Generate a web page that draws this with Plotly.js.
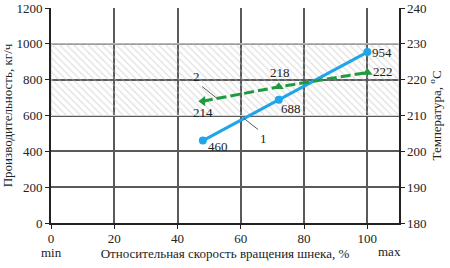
<!DOCTYPE html>
<html><head><meta charset="utf-8">
<script src="https://cdn.plot.ly/plotly-3.0.1.min.js"></script>
<style>html,body{margin:0;padding:0;background:#fff}#c{width:450px;height:268px}</style>
</head><body><div id="c"></div>
<script>
// Data
var speed = [48, 72, 100];               // relative screw speed, %
var capacity = [460, 688, 954];          // kg/h (curve 1)
var temperature = [214, 218, 222];       // °C (curve 2)
var xTicks = [0, 20, 40, 60, 80, 100];
var yTicks = [0, 200, 400, 600, 800, 1000, 1200];
var y2Ticks = [180, 190, 200, 210, 220, 230, 240];
var bandLow = 600, bandHigh = 1000;      // hatched zone (kg/h)
var xMax = 110;

var F = "Liberation Serif";
var blue = "#1fa5e8", green = "#1e9b3f";

var band = {
  x: [0, xMax, xMax, 0, 0], y: [bandLow, bandLow, bandHigh, bandHigh, bandLow],
  type: "scatter", mode: "lines", fill: "toself",
  fillcolor: "rgba(0,0,0,0)",
  fillpattern: {shape: "\\", fgcolor: "#bdbdbd", bgcolor: "rgba(255,255,255,0)", size: 5, solidity: 0.22, fillmode: "overlay"},
  line: {color: "#d6d6d6", width: 1.2}, hoverinfo: "skip", showlegend: false
};
var t1 = {
  x: speed, y: capacity, type: "scatter", mode: "lines+markers",
  line: {color: blue, width: 3}, marker: {color: blue, size: 8, symbol: "circle"},
  showlegend: false
};
var t2 = {
  x: speed, y: temperature, yaxis: "y2", type: "scatter", mode: "lines+markers",
  line: {color: green, width: 3, dash: "10px,4px"},
  marker: {color: green, size: 9, symbol: ["triangle-left", "triangle-up", "triangle-up"]},
  showlegend: false
};

var ann = [];
var s1 = [[15, -6], [12, -9], [15, 0]];
var s2 = [[0, -11], [1, 14], [16, 1]];
var lf = {family: F, size: 13, color: "#222"};
for (var i = 0; i < speed.length; i++) {
  ann.push({x: speed[i], y: capacity[i], text: String(capacity[i]), showarrow: false,
    xshift: s1[i][0], yshift: s1[i][1], font: lf});
  ann.push({x: speed[i], y: temperature[i], yref: "y2", text: String(temperature[i]), showarrow: false,
    xshift: s2[i][0], yshift: s2[i][1], font: lf});
}
// curve labels with leader lines
ann.push({x: 61, y: 460 + (61 - 48) * (688 - 460) / 24, text: "1", showarrow: true, arrowhead: 0,
  arrowwidth: 0.8, arrowcolor: "#333", ax: 14, ay: 11, xanchor: "left", yanchor: "top", font: lf});
ann.push({x: 52.5, y: 214 + (52.5 - 48) * 4 / 24, yref: "y2", text: "2", showarrow: true, arrowhead: 0,
  arrowwidth: 0.8, arrowcolor: "#333", ax: -15, ay: -12, xanchor: "right", yanchor: "bottom", font: lf});
// min / max labels
ann.push({x: 0, y: 0, xref: "x", yref: "paper", yanchor: "middle", text: "min", showarrow: false, yshift: -29, font: lf});
ann.push({x: 107, y: 0, xref: "x", yref: "paper", yanchor: "middle", text: "max", showarrow: false, yshift: -28, font: lf});

var layout = {
  width: 450, height: 268,
  margin: {l: 51, r: 51, t: 8, b: 45},
  paper_bgcolor: "#fff", plot_bgcolor: "#fff",
  font: {family: F, size: 13, color: "#222"},
  xaxis: {range: [0, xMax], tickvals: xTicks, ticks: "outside", ticklen: 4, tickcolor: "#222",
    ticklabelstandoff: -2,
    showgrid: true, gridcolor: "#5a5a5a", gridwidth: 2, zeroline: false,
    showline: true, linecolor: "#222", linewidth: 2,
    tickfont: {family: F, size: 13}, fixedrange: true,
    title: {text: "Относительная скорость вращения шнека, %", font: {family: F, size: 13}, standoff: 2}},
  yaxis: {range: [0, 1200], tickvals: yTicks, ticks: "outside", ticklen: 4, tickcolor: "#222",
    showgrid: true, gridcolor: "#5a5a5a", gridwidth: 2, zeroline: false,
    showline: true, linecolor: "#222", linewidth: 2,
    tickfont: {family: F, size: 13},
    title: {text: "Производительность, кг/ч", font: {family: F, size: 13}, standoff: 6}},
  yaxis2: {range: [180, 240], tickvals: y2Ticks, overlaying: "y", side: "right",
    ticks: "outside", ticklen: 4, tickcolor: "#222", showgrid: false, zeroline: false,
    showline: true, linecolor: "#222", linewidth: 1.5,
    tickfont: {family: F, size: 13},
    title: {text: "Температура, <sup>o</sup>C", font: {family: F, size: 13}, standoff: 6}},
  annotations: ann
};
Plotly.newPlot("c", [band, t1, t2], layout, {displayModeBar: false, staticPlot: true});
</script></body></html>
